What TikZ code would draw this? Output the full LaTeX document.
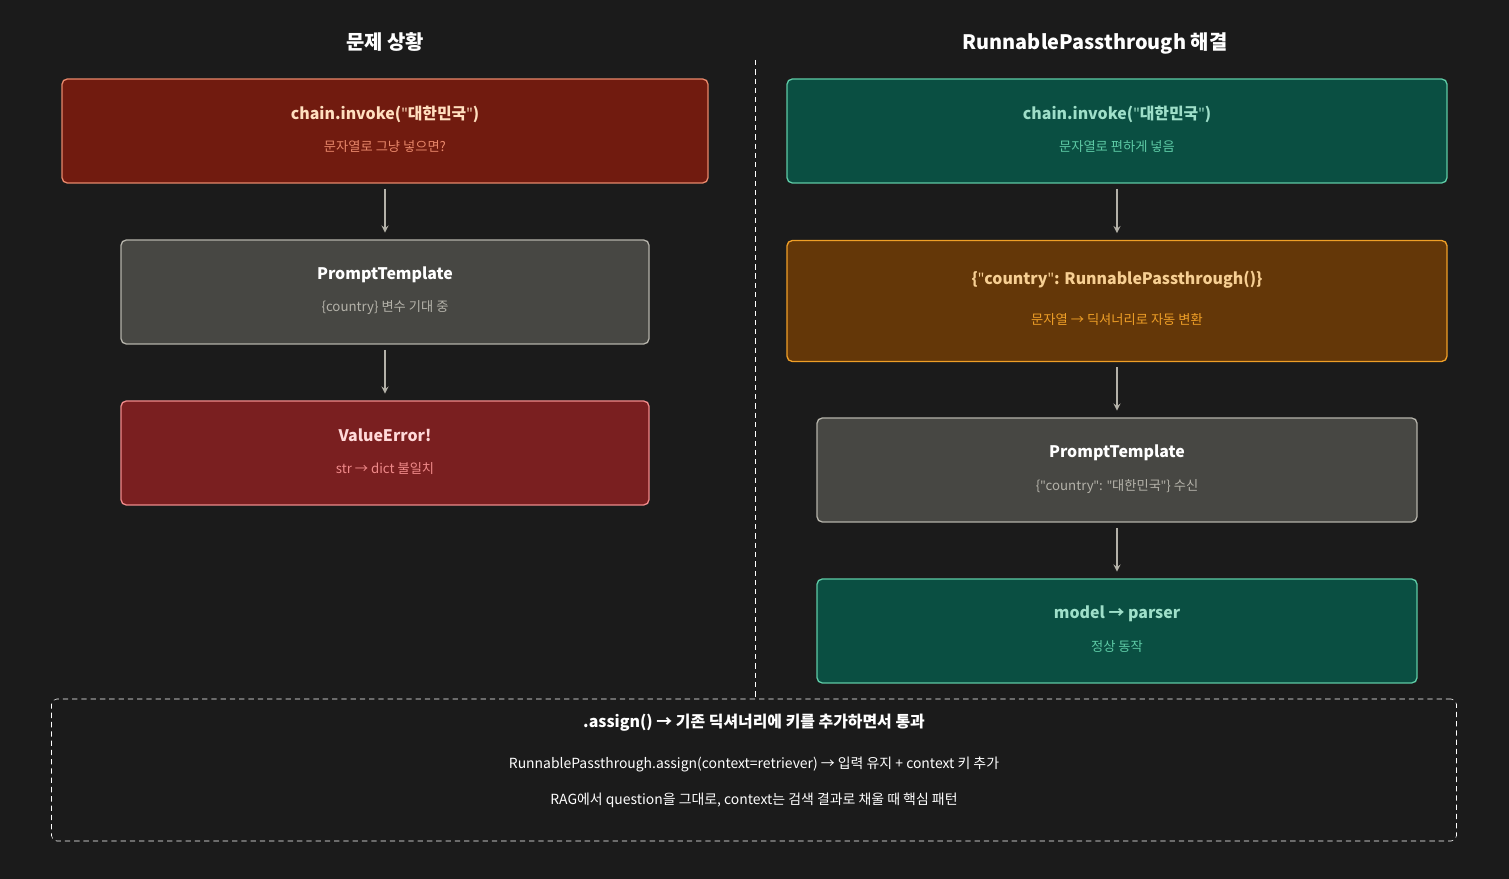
\documentclass[tikz,border=0pt]{standalone}
\usepackage{fontspec}
\setmainfont{Noto Sans CJK KR}
\newfontfamily\latinq{Noto Sans}
\newcommand{\qt}{{\latinq"}}
\usetikzlibrary{positioning}
\definecolor{bg}{HTML}{1B1B1B}
\definecolor{redfill}{HTML}{711B0F}\definecolor{redline}{HTML}{E8876A}
\definecolor{errfill}{HTML}{7A1F20}\definecolor{errline}{HTML}{F08A8A}
\definecolor{grayfill}{HTML}{474743}\definecolor{grayline}{HTML}{B4B2A9}
\definecolor{greenfill}{HTML}{0A4F42}\definecolor{greenline}{HTML}{5DCAA5}
\definecolor{orfill}{HTML}{643708}\definecolor{orline}{HTML}{EF9F27}
\begin{document}
\begin{tikzpicture}[x=0.0265cm, y=-0.0265cm,
  box/.style={draw, line width=1pt, rounded corners=4pt, inner sep=0pt},
  ttl/.style={font=\fontsize{12}{14}\selectfont\bfseries},
  sub/.style={font=\fontsize{10}{12}\selectfont},
  arr/.style={-stealth, line width=1.4pt, draw=grayline}]
  \fill[bg] (0,0) rectangle (1509,879);
  \useasboundingbox (0,0) rectangle (1509,879);
  \draw[dash pattern=on 4pt off 3pt, draw=white!18] (755,60) -- (755,820);
  % headings
  \node[text=white, font=\fontsize{15}{18}\selectfont\bfseries] (h1) at (385,42) {문제 상황};
  \node[text=white, font=\fontsize{15}{18}\selectfont\bfseries] (h2) at (1095,43) {RunnablePassthrough 해결};
  % left column
  \node[box, fill=redfill, draw=redline, minimum width=646*0.0265cm, minimum height=104*0.0265cm] (l1) at (385,131) {};
  \node[ttl, text=orange!25] at (385,114) {chain.invoke(\qt 대한민국\qt)};
  \node[sub, text=redline] at (385,147) {문자열로 그냥 넣으면?};
  \node[box, fill=grayfill, draw=grayline, minimum width=528*0.0265cm, minimum height=104*0.0265cm] (l2) at (385,292) {};
  \node[ttl, text=white!85] at (385,275) {PromptTemplate};
  \node[sub, text=grayline] at (385,308) {\{country\} 변수 기대 중};
  \node[box, fill=errfill, draw=errline, minimum width=528*0.0265cm, minimum height=104*0.0265cm] (l3) at (385,453) {};
  \node[ttl, text=red!15] at (385,435) {ValueError!};
  \node[sub, text=errline] at (385,469) {str → dict 불일치};
  \draw[arr] ([yshift=-4pt]l1.south) -- ([yshift=5pt]l2.north);
  \draw[arr] ([yshift=-4pt]l2.south) -- ([yshift=5pt]l3.north);
  % right column
  \node[box, fill=greenfill, draw=greenline, minimum width=660*0.0265cm, minimum height=104*0.0265cm] (r1) at (1117,131) {};
  \node[ttl, text=greenline!60!white] at (1117,114) {chain.invoke(\qt 대한민국\qt)};
  \node[sub, text=greenline] at (1117,147) {문자열로 편하게 넣음};
  \node[box, fill=orfill, draw=orline, minimum width=660*0.0265cm, minimum height=121*0.0265cm] (r2) at (1117,301) {};
  \node[ttl, text=orline!50!white] at (1117,280) {\{\qt country\qt: RunnablePassthrough()\}};
  \node[sub, text=orline] at (1117,320) {문자열 → 딕셔너리로 자동 변환};
  \node[box, fill=grayfill, draw=grayline, minimum width=600*0.0265cm, minimum height=104*0.0265cm] (r3) at (1117,470) {};
  \node[ttl, text=white!85] at (1117,453) {PromptTemplate};
  \node[sub, text=grayline] at (1117,487) {\{\qt country\qt: \qt 대한민국\qt\} 수신};
  \node[box, fill=greenfill, draw=greenline, minimum width=600*0.0265cm, minimum height=104*0.0265cm] (r4) at (1117,631) {};
  \node[ttl, text=greenline!60!white] at (1117,614) {model → parser};
  \node[sub, text=greenline] at (1117,647) {정상 동작};
  \draw[arr] ([yshift=-4pt]r1.south) -- ([yshift=5pt]r2.north);
  \draw[arr] ([yshift=-4pt]r2.south) -- ([yshift=5pt]r3.north);
  \draw[arr] ([yshift=-4pt]r3.south) -- ([yshift=5pt]r4.north);
  % bottom note
  \node[draw=white!18, dash pattern=on 4pt off 3pt, fill=bg, rounded corners=4pt, minimum width=1405*0.0265cm, minimum height=142*0.0265cm] (note) at (754,770) {};
  \node[ttl, text=white] at (754,723) {.assign() → 기존 딕셔너리에 키를 추가하면서 통과};
  \node[sub, font=\fontsize{10.5}{12}\selectfont, text=white!70] at (754,764) {RunnablePassthrough.assign(context=retriever) → 입력 유지 + context 키 추가};
  \node[sub, font=\fontsize{10.5}{12}\selectfont, text=white!70] at (754,800) {RAG에서 question을 그대로, context는 검색 결과로 채울 때 핵심 패턴};
\end{tikzpicture}
\end{document}
